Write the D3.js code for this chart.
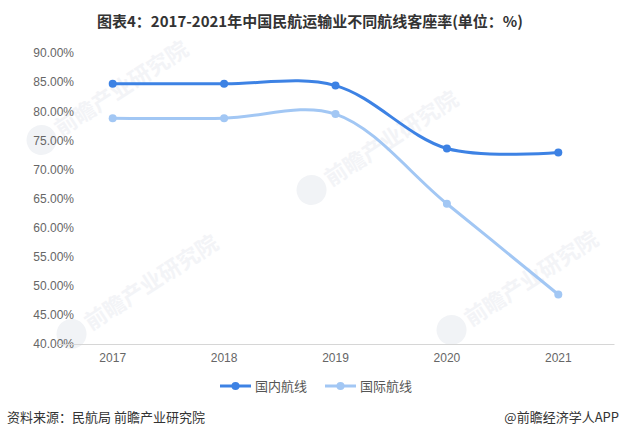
<!DOCTYPE html>
<html><head><meta charset="utf-8">
<script src="https://cdn.jsdelivr.net/npm/d3@7/dist/d3.min.js"></script>
<style>body{margin:0;background:#fff}svg{display:block}</style>
</head><body>
<svg id="c" width="620" height="438"></svg>
<script>
const years = ["2017","2018","2019","2020","2021"];
const domestic = [84.7, 84.7, 84.4, 73.6, 72.9];
const international = [78.8, 78.8, 79.5, 64.1, 48.5];
const yTicks = [40,45,50,55,60,65,70,75,80,85,90];
const seriesNames = ["国内航线","国际航线"];
const colors = ["#3D82E4","#A2C7F4"];

const svg = d3.select("#c");
const font = "'Noto Sans CJK SC','Microsoft YaHei',sans-serif";

// faint watermarks
const wm = [[60,128],[330,178],[90,322],[470,318]];
wm.forEach(([x,y])=>{
  const g = svg.append("g").attr("transform",`translate(${x},${y}) rotate(-33)`);
  g.append("circle").attr("cx",-22).attr("cy",0).attr("r",15).attr("fill","#f1f3f6");
  g.append("text").attr("x",-4).attr("y",8).text("前瞻产业研究院").attr("font-family",font).attr("font-size",22).attr("font-weight",700).attr("fill","#f3f4f7");
});

const x = d3.scaleBand().domain(years).range([57,614]);
const y = d3.scaleLinear().domain([40,90]).range([344,53]);

svg.append("text").attr("x",310).attr("y",27).attr("text-anchor","middle")
  .attr("font-family",font).attr("font-weight",700).attr("font-size",15).attr("fill","#333")
  .text("图表4：2017-2021年中国民航运输业不同航线客座率(单位：%)");

// y axis
const ya = svg.append("g").attr("transform","translate(74,0)")
  .call(d3.axisLeft(y).tickValues(yTicks).tickFormat(d=>d.toFixed(2)+"%").tickSize(0).tickPadding(0));
ya.select(".domain").remove();
ya.selectAll("text").attr("font-family","'Liberation Sans',Arial,sans-serif").attr("font-size",12).attr("fill","#666");

// x axis
const xa = svg.append("g").attr("transform","translate(0,344)")
  .call(d3.axisBottom(x).tickSize(0).tickPadding(9));
xa.select(".domain").attr("stroke","#d6d6d6");
xa.selectAll("text").attr("font-family","'Liberation Sans',Arial,sans-serif").attr("font-size",12).attr("fill","#666");

const line = d3.line().x((d,i)=>x(years[i])+x.bandwidth()/2).y(d=>y(d)).curve(d3.curveCatmullRom.alpha(0.5));
[international, domestic].forEach((s,k)=>{
  const ci = k===0?1:0;
  svg.append("path").attr("d",line(s)).attr("fill","none").attr("stroke",colors[ci]).attr("stroke-width",3);
  svg.selectAll(null).data(s).enter().append("circle")
    .attr("cx",(d,i)=>x(years[i])+x.bandwidth()/2).attr("cy",d=>y(d)).attr("r",4).attr("fill",colors[ci]);
});

// legend
const lg = [[220,seriesNames[0],colors[0]],[325,seriesNames[1],colors[1]]];
lg.forEach(([lx,t,c])=>{
  svg.append("line").attr("x1",lx).attr("x2",lx+31).attr("y1",386).attr("y2",386).attr("stroke",c).attr("stroke-width",3);
  svg.append("circle").attr("cx",lx+15.5).attr("cy",386).attr("r",4).attr("fill",c);
  svg.append("text").attr("x",lx+35).attr("y",391).text(t).attr("font-family",font).attr("font-size",13).attr("fill","#555");
});

svg.append("text").attr("x",7).attr("y",422).text("资料来源：民航局 前瞻产业研究院").attr("font-family",font).attr("font-size",13).attr("fill","#333");
svg.append("text").attr("x",619).attr("y",422).attr("text-anchor","end").text("@前瞻经济学人APP").attr("font-family",font).attr("font-size",13).attr("fill","#333");
</script>
</body></html>
